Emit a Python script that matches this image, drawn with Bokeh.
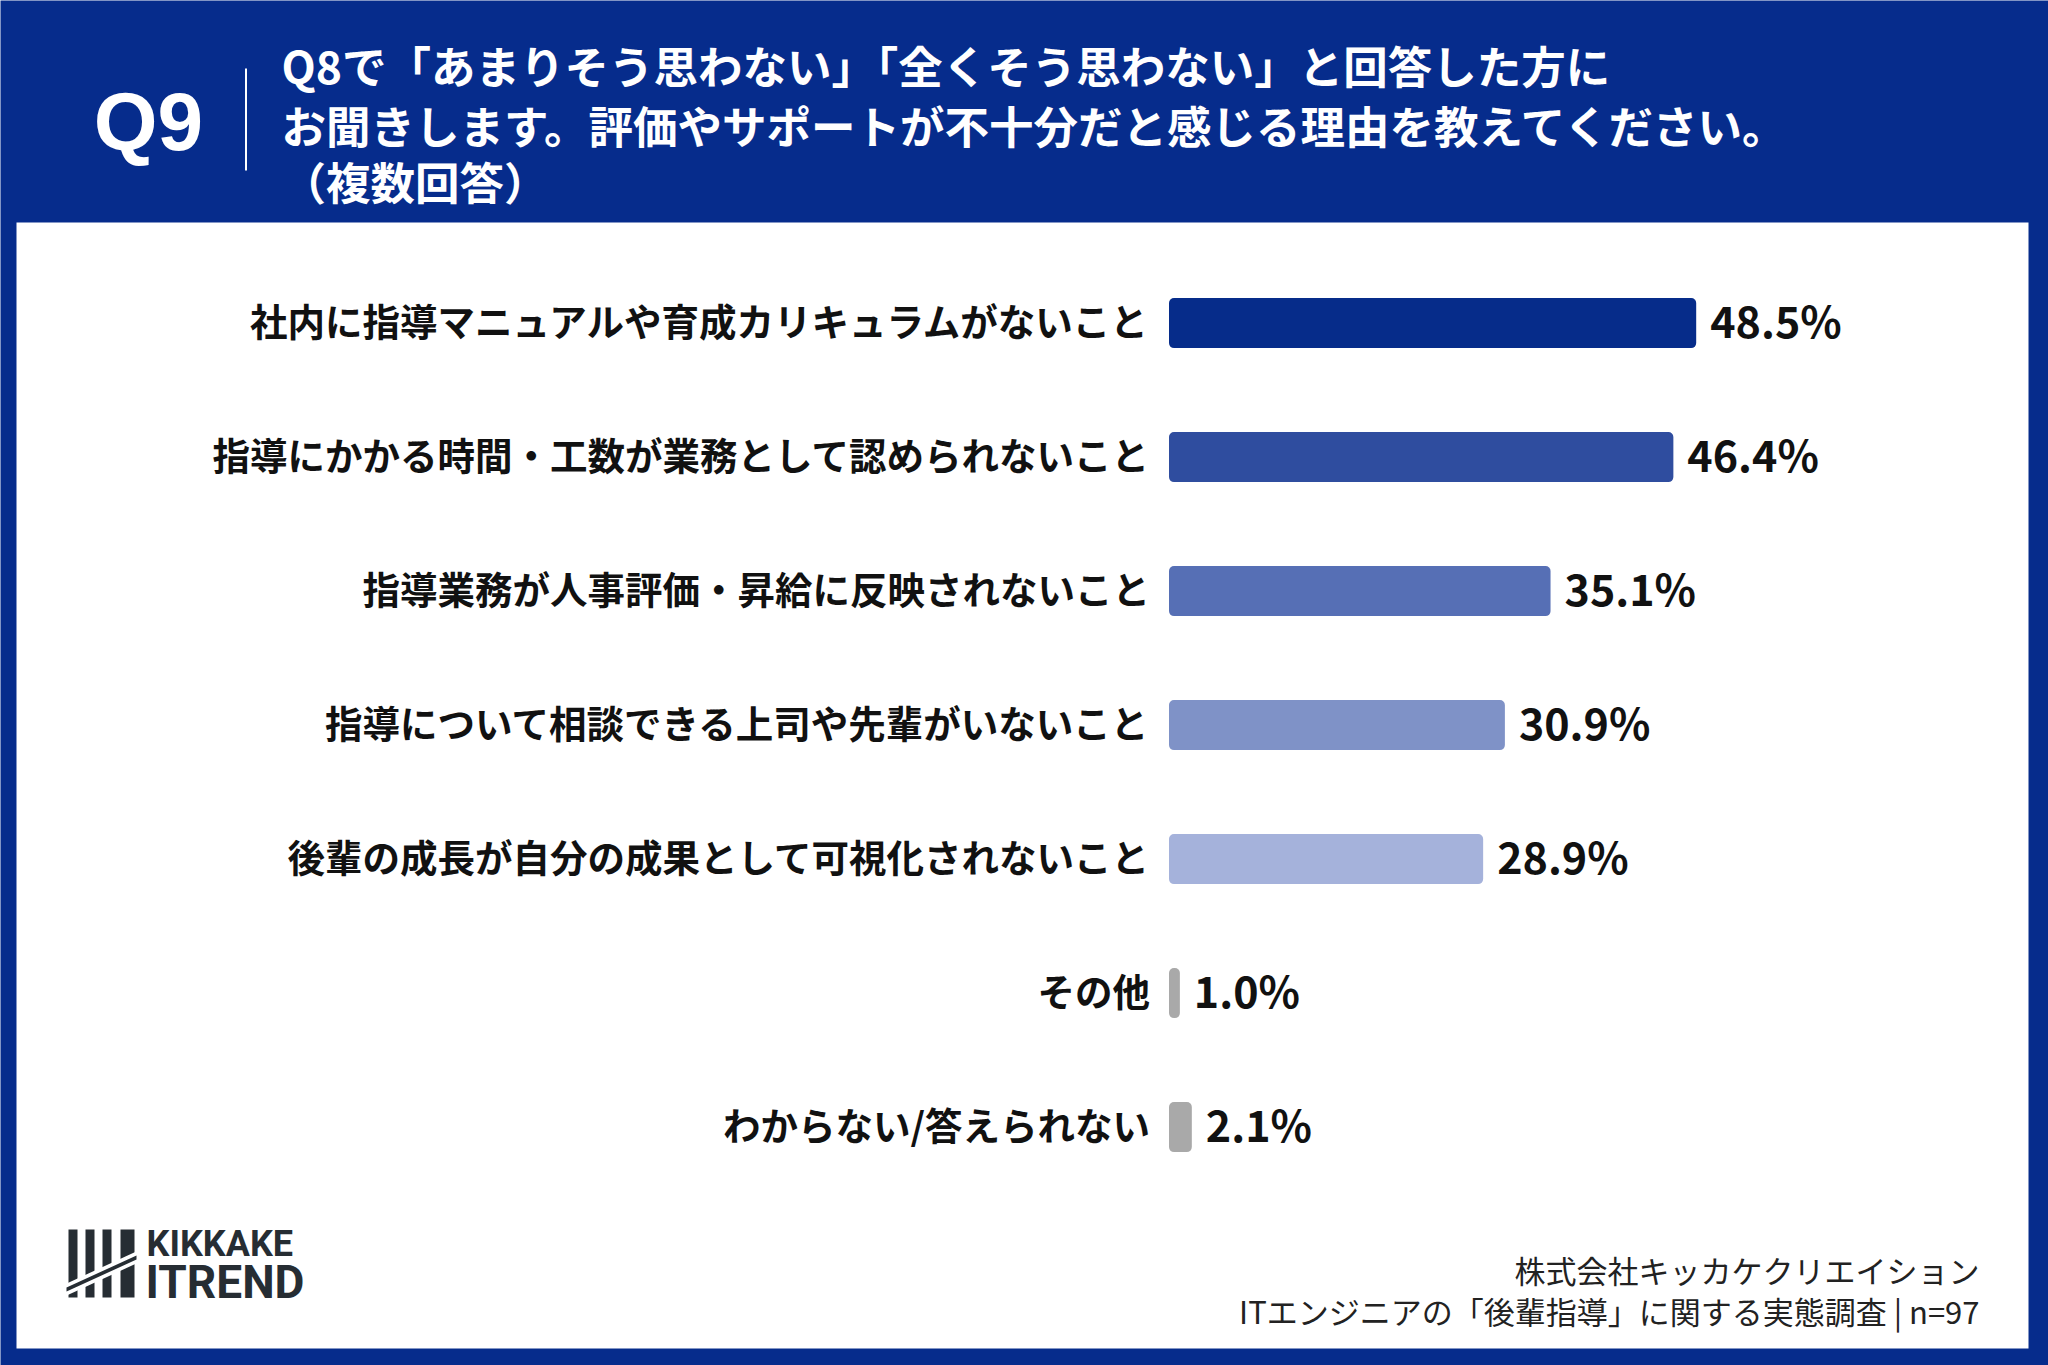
from bokeh.plotting import figure
from bokeh.models import Range1d, ColumnDataSource
from bokeh.core.properties import value
from bokeh.embed import file_html
from bokeh.resources import INLINE

# ---- data ----
categories = [
    "社内に指導マニュアルや育成カリキュラムがないこと",
    "指導にかかる時間・工数が業務として認められないこと",
    "指導業務が人事評価・昇給に反映されないこと",
    "指導について相談できる上司や先輩がいないこと",
    "後輩の成長が自分の成果として可視化されないこと",
    "その他",
    "わからない/答えられない",
]
values = [48.5, 46.4, 35.1, 30.9, 28.9, 1.0, 2.1]
bar_colors = ["#062c8a", "#2f4d9f", "#566fb5", "#7f92c7", "#a5b2db", "#a9a9a9", "#a9a9a9"]

question_no = "Q9"
title_lines = [
    "Q8で「あまりそう思わない」「全くそう思わない」と回答した方に",
    "お聞きします。評価やサポートが不十分だと感じる理由を教えてください。",
    "（複数回答）",
]
footer_lines = [
    "株式会社キッカケクリエイション",
    "ITエンジニアの「後輩指導」に関する実態調査 | n=97",
]

W, H = 2048, 1365
NAVY = "#062c8c"
JP = "Noto Sans CJK JP"

# percent axis: bar origin at x=1168 px, ~10.87 px per percent
PX_PER_PCT = 10.87
ORIGIN_PX = 1168.5
ROW_PX = 134.0
FIRST_ROW_PX = 322.6

x_start = -ORIGIN_PX / PX_PER_PCT
x_end = (W - ORIGIN_PX) / PX_PER_PCT
y_top = -FIRST_ROW_PX / ROW_PX
y_bottom = (H - FIRST_ROW_PX) / ROW_PX

p = figure(width=W, height=H, output_backend="svg", toolbar_location=None,
           x_range=Range1d(x_start, x_end), y_range=Range1d(y_bottom, y_top),
           min_border=0, outline_line_color=None)
p.background_fill_color = NAVY
p.border_fill_color = NAVY
p.xaxis.visible = False
p.yaxis.visible = False
p.xgrid.visible = False
p.ygrid.visible = False

# page-layout ranges (pixel units, y downwards)
p.extra_x_ranges = {"px": Range1d(0, W)}
p.extra_y_ranges = {"px": Range1d(H, 0)}

# white content panel
p.quad(left=[16], right=[2028], top=[222], bottom=[1348],
       fill_color="white", line_color=None,
       x_range_name="px", y_range_name="px")

# header
p.text(x=[148], y=[121], text=[question_no], text_align="center", text_baseline="middle",
       text_font=value("Liberation Sans"), text_font_style="bold",
       text_font_size="82px", text_color="white",
       x_range_name="px", y_range_name="px")
p.segment(x0=[245.5], y0=[68], x1=[245.5], y1=[170], line_color="white", line_width=2,
          x_range_name="px", y_range_name="px")
p.text(x=[281, 281, 281], y=[64, 124, 180], text=title_lines,
       text_align="left", text_baseline="middle",
       text_font=value(JP), text_font_style="bold",
       text_font_size="44.5px", text_color="white",
       x_range_name="px", y_range_name="px")

# bars
idx = list(range(len(categories)))
src = ColumnDataSource(dict(
    y=idx, v=values, c=bar_colors, cat=categories,
    lab=[f"{v:.1f}%" for v in values],
))
p.hbar(y="y", left=0, right="v", height=50 / ROW_PX, fill_color="c",
       line_color=None, source=src, border_radius=5)

p.text(x=0, y="y", text="cat", source=src, x_offset=-19, y_offset=-4,
       text_align="right", text_baseline="middle",
       text_font=value(JP), text_font_style="bold",
       text_font_size="37.5px", text_color="#111111")
p.text(x="v", y="y", text="lab", source=src, x_offset=14, y_offset=-4,
       text_align="left", text_baseline="middle",
       text_font=value(JP), text_font_style="bold",
       text_font_size="43px", text_color="#111111")

# footer
p.text(x=[1979, 1979], y=[1269, 1310], text=footer_lines,
       text_align="right", text_baseline="middle",
       text_font=value(JP), text_font_size="31px", text_color="#222222",
       x_range_name="px", y_range_name="px")

# logo mark: tally bars with a diagonal strike
LOGO = "#262d33"
p.quad(left=[68, 85, 102, 120], right=[77, 94, 111, 134],
       top=[1229] * 4, bottom=[1297] * 4, fill_color=LOGO, line_color=None,
       x_range_name="px", y_range_name="px")
p.patch(x=[64, 138, 138, 64], y=[1284, 1250, 1262, 1296], fill_color="white", line_color=None,
        x_range_name="px", y_range_name="px")
p.patch(x=[66, 136, 136, 66], y=[1287, 1255, 1259, 1291], fill_color=LOGO, line_color=None,
        x_range_name="px", y_range_name="px")
p.text(x=[146], y=[1243], text=["KIKKAKE"], text_align="left", text_baseline="middle",
       text_font=value("Roboto"), text_font_style="bold", text_font_size="36px",
       text_color=LOGO, x_range_name="px", y_range_name="px")
p.text(x=[145], y=[1281], text=["ITREND"], text_align="left", text_baseline="middle",
       text_font=value("Roboto"), text_font_style="bold", text_font_size="46px",
       text_color=LOGO, x_range_name="px", y_range_name="px")

open("out.html", "w").write(file_html(p, INLINE))
